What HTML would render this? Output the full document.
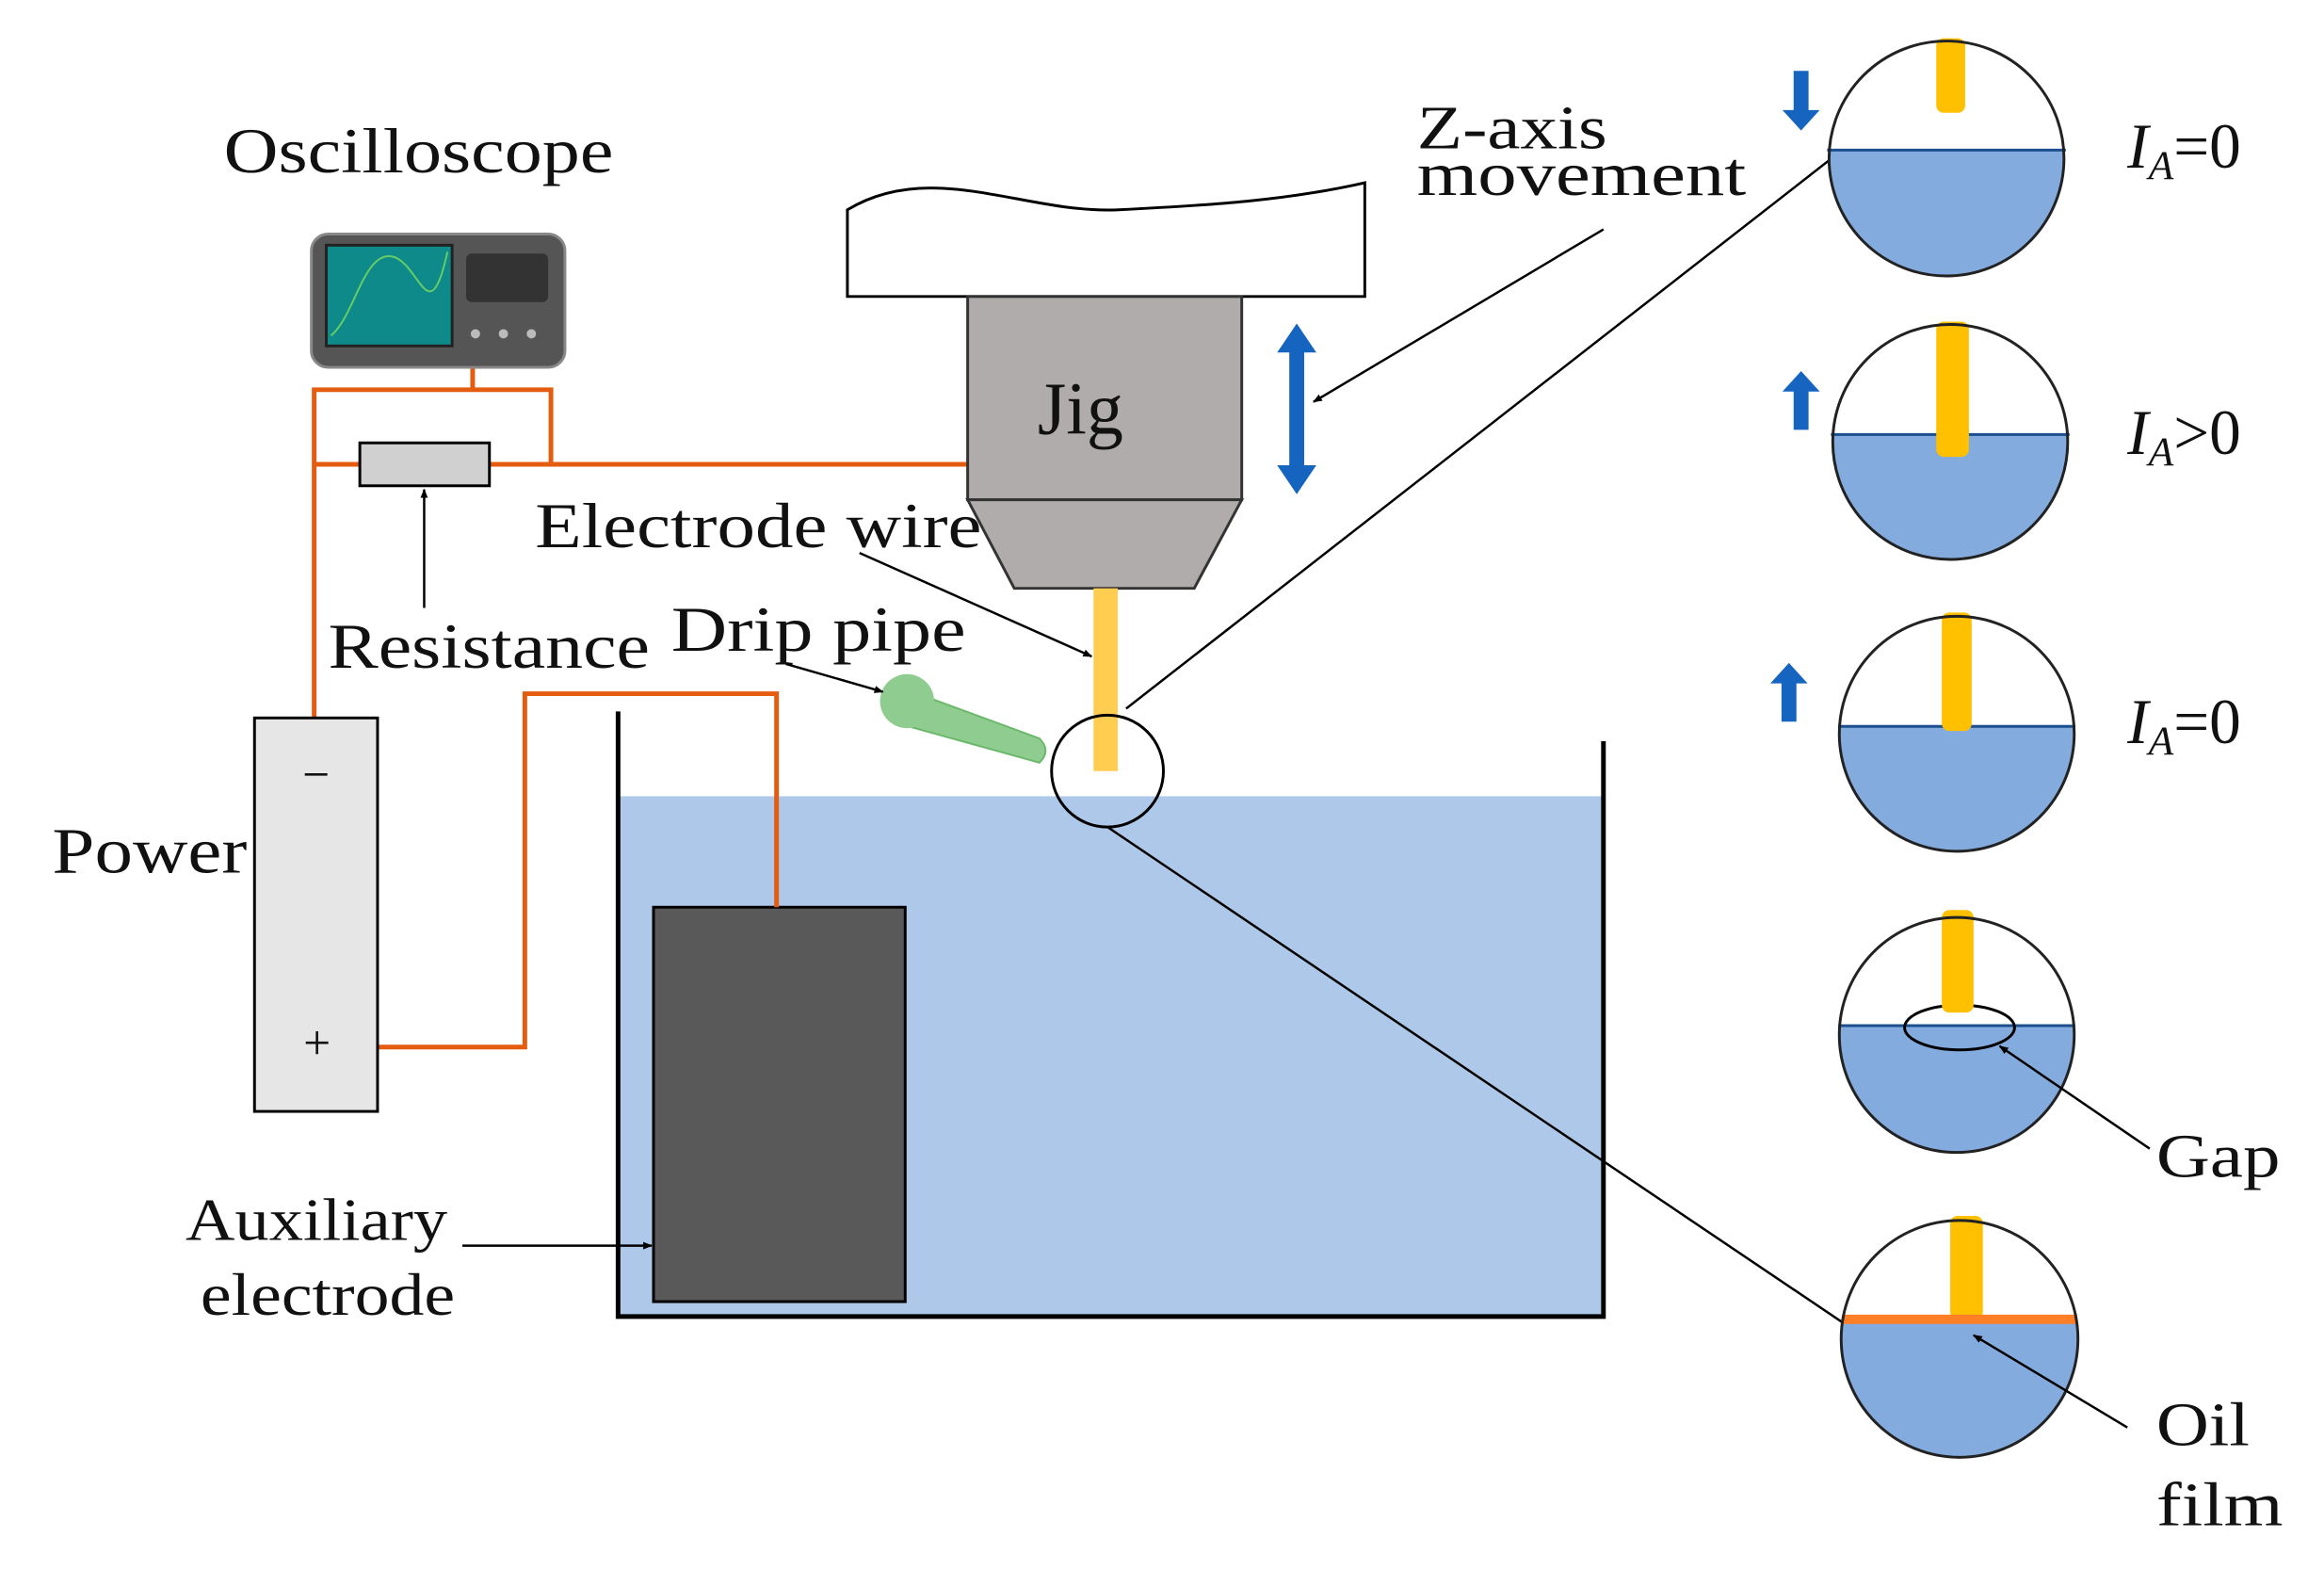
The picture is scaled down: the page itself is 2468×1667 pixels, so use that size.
<!DOCTYPE html>
<html><head><meta charset="utf-8"><style>
html,body{margin:0;padding:0;background:#fff}
svg{display:block}
text{font-family:"Liberation Serif",serif;fill:#111}
</style></head><body>
<svg width="2468" height="1667" viewBox="0 0 2468 1667" xmlns="http://www.w3.org/2000/svg">
<defs>
<marker id="ah" markerWidth="10" markerHeight="10" refX="9" refY="5" orient="auto" markerUnits="userSpaceOnUse" viewBox="0 0 10 10">
<path d="M0,1 L10,5 L0,9 Z" fill="#000"/></marker>
<clipPath id="c1"><circle cx="2088" cy="170" r="126"/></clipPath>
<clipPath id="c2"><circle cx="2092" cy="474" r="126"/></clipPath>
<clipPath id="c3"><circle cx="2099" cy="787" r="126"/></clipPath>
<clipPath id="c4"><circle cx="2099" cy="1110" r="126"/></clipPath>
<clipPath id="c5"><circle cx="2102" cy="1436" r="127"/></clipPath>
</defs>
<g transform="scale(0.99)">
<!-- tank -->
<rect x="663" y="854" width="1057" height="558" fill="#adc8e8"/>
<path d="M663,763 L663,1412 L1720,1412 L1720,795" fill="none" stroke="#000" stroke-width="5"/>
<rect x="701" y="973" width="270" height="423" fill="#595959" stroke="#000" stroke-width="3"/>

<!-- wires -->
<g fill="none" stroke="#e35c0f" stroke-width="5">
<path d="M507,394 L507,418"/>
<path d="M337,770 L337,418 L591,418 L591,498"/>
<path d="M337,498 L1038,498"/>
<path d="M405,1123 L563,1123 L563,744 L833,744 L833,973"/>
</g>
<rect x="386" y="475" width="139" height="46" fill="#d0d0d0" stroke="#000" stroke-width="3"/>

<!-- oscilloscope -->
<rect x="334" y="251" width="272" height="143" rx="18" fill="#555" stroke="#888" stroke-width="3"/>
<rect x="350" y="263" width="135" height="108" fill="#0e8a8a" stroke="#222" stroke-width="3"/>
<path d="M355,360 C380,340 390,270 420,275 C450,280 460,360 480,270" fill="none" stroke="#6c6" stroke-width="2"/>
<rect x="500" y="272" width="88" height="52" rx="6" fill="#333"/>
<g fill="#bbb"><circle cx="510" cy="358" r="5"/><circle cx="540" cy="358" r="5"/><circle cx="570" cy="358" r="5"/></g>
<text x="240" y="185" font-size="68" textLength="418" lengthAdjust="spacingAndGlyphs">Oscilloscope</text>

<!-- power -->
<rect x="273" y="770" width="132" height="422" fill="#e6e6e6" stroke="#000" stroke-width="3"/>
<text x="339" y="848" font-size="52" text-anchor="middle">−</text>
<text x="340" y="1136" font-size="52" text-anchor="middle">+</text>
<text x="56" y="936" font-size="70" textLength="209" lengthAdjust="spacingAndGlyphs">Power</text>

<!-- jig -->
<path d="M909,225 C1000,170 1100,230 1200,225 C1300,220 1380,215 1464,196 L1464,318 L909,318 Z" fill="#fff" stroke="#000" stroke-width="3"/>
<rect x="1038" y="318" width="294" height="218" fill="#b0acab" stroke="#333" stroke-width="3"/>
<path d="M1038,536 L1332,536 L1281,631 L1088,631 Z" fill="#b0acab" stroke="#333" stroke-width="3"/>
<text x="1113" y="465" font-size="80" textLength="92" lengthAdjust="spacingAndGlyphs">Jig</text>
<rect x="1173" y="631" width="26" height="196" fill="#ffcd50"/>
<circle cx="1188" cy="827" r="60" fill="none" stroke="#000" stroke-width="3"/>

<!-- blue double arrow -->
<path d="M1391,347 L1412,378 L1399,378 L1399,499 L1412,499 L1391,530 L1370,499 L1383,499 L1383,378 L1370,378 Z" fill="#1565c0"/>

<!-- drip pipe -->
<path d="M960,735 L1115,792 Q1128,805 1115,818 L960,775 Z" fill="#8fcc8f" stroke="#6bb86b" stroke-width="2"/>
<circle cx="973" cy="752" r="29" fill="#8fcc8f"/>

<!-- labels & arrows -->
<text x="574" y="587" font-size="68" textLength="479" lengthAdjust="spacingAndGlyphs">Electrode wire</text>
<line x1="922" y1="593" x2="1171" y2="704" stroke="#000" stroke-width="2.5" marker-end="url(#ah)"/>
<text x="352" y="716" font-size="68" textLength="345" lengthAdjust="spacingAndGlyphs">Resistance</text>
<line x1="455" y1="652" x2="455" y2="525" stroke="#000" stroke-width="2.5" marker-end="url(#ah)"/>
<text x="720" y="698" font-size="68" textLength="316" lengthAdjust="spacingAndGlyphs">Drip pipe</text>
<line x1="843" y1="712" x2="947" y2="742" stroke="#000" stroke-width="2.5" marker-end="url(#ah)"/>
<text x="199" y="1330" font-size="64" textLength="281" lengthAdjust="spacingAndGlyphs">Auxiliary</text>
<text x="215" y="1410" font-size="64" textLength="273" lengthAdjust="spacingAndGlyphs">electrode</text>
<line x1="496" y1="1336" x2="699" y2="1336" stroke="#000" stroke-width="2.5" marker-end="url(#ah)"/>
<text x="1520" y="159" font-size="66" textLength="204" lengthAdjust="spacingAndGlyphs">Z-axis</text>
<text x="1520" y="209" font-size="66" textLength="353" lengthAdjust="spacingAndGlyphs">movement</text>
<line x1="1720" y1="246" x2="1409" y2="431" stroke="#000" stroke-width="2.5" marker-end="url(#ah)"/>

<!-- zoom lines -->
<line x1="1208" y1="760" x2="1962" y2="172" stroke="#000" stroke-width="2.5"/>
<line x1="1188" y1="887" x2="1976" y2="1418" stroke="#000" stroke-width="2.5"/>

<!-- right circles -->
<g>
<rect x="1950" y="161" width="280" height="140" fill="#84abdd" clip-path="url(#c1)"/>
<line x1="1960" y1="161" x2="2216" y2="161" stroke="#1b4f8f" stroke-width="3"/>
<rect x="2077" y="41" width="31" height="80" rx="8" fill="#ffc000"/>
<circle cx="2088" cy="170" r="126" fill="none" stroke="#222" stroke-width="3"/>
</g>
<g>
<rect x="1950" y="466" width="280" height="140" fill="#84abdd" clip-path="url(#c2)"/>
<line x1="1964" y1="466" x2="2220" y2="466" stroke="#1b4f8f" stroke-width="3"/>
<rect x="2077" y="345" width="35" height="145" rx="8" fill="#ffc000"/>
<circle cx="2092" cy="474" r="126" fill="none" stroke="#222" stroke-width="3"/>
</g>
<g>
<rect x="1960" y="779" width="280" height="140" fill="#84abdd" clip-path="url(#c3)"/>
<line x1="1972" y1="779" x2="2226" y2="779" stroke="#1b4f8f" stroke-width="3"/>
<rect x="2083" y="657" width="32" height="127" rx="8" fill="#ffc000"/>
<circle cx="2099" cy="787" r="126" fill="none" stroke="#222" stroke-width="3"/>
</g>
<g>
<rect x="1960" y="1100" width="280" height="140" fill="#84abdd" clip-path="url(#c4)"/>
<line x1="1972" y1="1100" x2="2226" y2="1100" stroke="#1b4f8f" stroke-width="3"/>
<ellipse cx="2102" cy="1102" rx="59" ry="24" fill="none" stroke="#000" stroke-width="3"/>
<rect x="2083" y="976" width="34" height="110" rx="8" fill="#ffc000"/>
<circle cx="2099" cy="1110" r="126" fill="none" stroke="#222" stroke-width="3"/>
</g>
<g>
<rect x="1960" y="1415" width="290" height="150" fill="#84abdd" clip-path="url(#c5)"/>
<rect x="2092" y="1304" width="35" height="111" rx="8" fill="#ffc000"/>
<line x1="1976" y1="1415" x2="2228" y2="1415" stroke="#ff7f27" stroke-width="10"/>
<circle cx="2102" cy="1436" r="127" fill="none" stroke="#222" stroke-width="3"/>
</g>

<!-- small blue arrows -->
<path d="M1924,76 L1940,76 L1940,118 L1952,118 L1932,140 L1912,118 L1924,118 Z" fill="#1565c0"/>
<path d="M1924,461 L1940,461 L1940,420 L1952,420 L1932,398 L1912,420 L1924,420 Z" fill="#1565c0"/>
<path d="M1911,774 L1927,774 L1927,733 L1939,733 L1919,711 L1899,733 L1911,733 Z" fill="#1565c0"/>

<!-- I_A labels -->
<text x="2282" y="180" font-size="68"><tspan font-style="italic">I</tspan><tspan font-style="italic" font-size="44" dy="12">A</tspan><tspan dy="-12">=0</tspan></text>
<text x="2282" y="487" font-size="68"><tspan font-style="italic">I</tspan><tspan font-style="italic" font-size="44" dy="12">A</tspan><tspan dy="-12">&gt;0</tspan></text>
<text x="2282" y="797" font-size="68"><tspan font-style="italic">I</tspan><tspan font-style="italic" font-size="44" dy="12">A</tspan><tspan dy="-12">=0</tspan></text>

<text x="2313" y="1262" font-size="66" textLength="133" lengthAdjust="spacingAndGlyphs">Gap</text>
<line x1="2306" y1="1232" x2="2145" y2="1122" stroke="#000" stroke-width="2.5" marker-end="url(#ah)"/>
<text x="2313" y="1550" font-size="66" textLength="100" lengthAdjust="spacingAndGlyphs">Oil</text>
<text x="2313" y="1636" font-size="66" textLength="136" lengthAdjust="spacingAndGlyphs">film</text>
<line x1="2282" y1="1531" x2="2117" y2="1432" stroke="#000" stroke-width="2.5" marker-end="url(#ah)"/>
</g>
</svg>
</body></html>
